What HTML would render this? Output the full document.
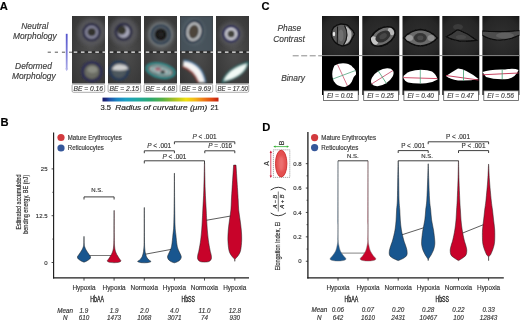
<!DOCTYPE html><html><head><meta charset="utf-8"><style>html,body{margin:0;padding:0;background:#fff;width:520px;height:322px;overflow:hidden}svg{display:block;filter:blur(0.3px)}text{font-family:"Liberation Sans",sans-serif}</style></head><body>
<svg width="520" height="322" viewBox="0 0 520 322">
<defs>
<filter id="b1" x="-50%" y="-50%" width="200%" height="200%"><feGaussianBlur stdDeviation="0.8"/></filter>
<filter id="b2" x="-50%" y="-50%" width="200%" height="200%"><feGaussianBlur stdDeviation="1.6"/></filter>
<filter id="b07" x="-50%" y="-50%" width="200%" height="200%"><feGaussianBlur stdDeviation="0.8"/></filter>
<filter id="bC" x="-50%" y="-50%" width="200%" height="200%"><feGaussianBlur stdDeviation="0.75"/></filter>
<filter id="b05" x="-50%" y="-50%" width="200%" height="200%"><feGaussianBlur stdDeviation="0.45"/></filter>
<linearGradient id="jet" x1="0" x2="1" y1="0" y2="0">
<stop offset="0" stop-color="#18186a"/><stop offset="0.03" stop-color="#1c2a80"/><stop offset="0.06" stop-color="#2050a8"/><stop offset="0.12" stop-color="#1a80c0"/><stop offset="0.2" stop-color="#1ca0c4"/><stop offset="0.3" stop-color="#20a8a0"/><stop offset="0.42" stop-color="#2ca86c"/><stop offset="0.52" stop-color="#58b044"/><stop offset="0.62" stop-color="#a8c024"/><stop offset="0.72" stop-color="#f0e010"/><stop offset="0.8" stop-color="#f2b41c"/><stop offset="0.88" stop-color="#ec7418"/><stop offset="0.95" stop-color="#dc4412"/><stop offset="1" stop-color="#c02010"/>
</linearGradient>
<linearGradient id="barrow" x1="0" x2="0" y1="0" y2="1"><stop offset="0" stop-color="#5454cc"/><stop offset="0.5" stop-color="#7878d8"/><stop offset="1" stop-color="#a8a8e6"/></linearGradient>
<radialGradient id="bgA" cx="0.55" cy="0.5" r="0.75"><stop offset="0" stop-color="#4e4e4e"/><stop offset="1" stop-color="#343434"/></radialGradient>
<radialGradient id="bgC" cx="0.5" cy="0.55" r="0.75"><stop offset="0" stop-color="#303030"/><stop offset="0.7" stop-color="#262626"/><stop offset="1" stop-color="#151515"/></radialGradient>
<clipPath id="cA0"><rect x="72" y="16" width="33" height="67.5"/></clipPath><clipPath id="cA1"><rect x="108" y="16" width="33" height="67.5"/></clipPath><clipPath id="cA2"><rect x="144" y="16" width="33" height="67.5"/></clipPath><clipPath id="cA3"><rect x="180" y="16" width="33" height="67.5"/></clipPath><clipPath id="cA4"><rect x="216" y="16" width="33" height="67.5"/></clipPath><clipPath id="cC0"><rect x="322.0" y="16" width="37" height="39"/></clipPath><clipPath id="cC1"><rect x="362.3" y="16" width="37" height="39"/></clipPath><clipPath id="cC2"><rect x="402.5" y="16" width="37" height="39"/></clipPath><clipPath id="cC3"><rect x="442.3" y="16" width="37" height="39"/></clipPath><clipPath id="cC4"><rect x="482.4" y="16" width="37" height="39"/></clipPath></defs>
<text x="-0.20" y="9.60" font-size="11.20" text-anchor="start" font-weight="bold" fill="#000" stroke="#000" stroke-width="0.15" >A</text>
<text x="34.80" y="29.00" font-size="8.40" text-anchor="middle" font-weight="normal" fill="#3a3a3a" font-style="italic" stroke="#3a3a3a" stroke-width="0.15" >Neutral</text>
<text x="34.80" y="39.00" font-size="8.40" text-anchor="middle" font-weight="normal" fill="#3a3a3a" font-style="italic" stroke="#3a3a3a" stroke-width="0.15" >Morphology</text>
<text x="33.50" y="69.10" font-size="8.40" text-anchor="middle" font-weight="normal" fill="#3a3a3a" font-style="italic" stroke="#3a3a3a" stroke-width="0.15" >Deformed</text>
<text x="33.80" y="79.40" font-size="8.40" text-anchor="middle" font-weight="normal" fill="#3a3a3a" font-style="italic" stroke="#3a3a3a" stroke-width="0.15" >Morphology</text>
<rect x="65.8" y="33.8" width="1.8" height="35.5" fill="url(#barrow)"/>
<path d="M65.2,68.5 L68.2,68.5 L66.7,71.2 Z" fill="#b4b4ea"/>
<line x1="47.7" y1="52.2" x2="72" y2="52.2" stroke="#444" stroke-width="0.9" stroke-dasharray="3.2,3.9"/>
<rect x="72" y="16" width="33" height="67.5" fill="url(#bgA)"/>
<rect x="108" y="16" width="33" height="67.5" fill="url(#bgA)"/>
<rect x="144" y="16" width="33" height="67.5" fill="url(#bgA)"/>
<rect x="180" y="16" width="33" height="67.5" fill="url(#bgA)"/>
<rect x="216" y="16" width="33" height="67.5" fill="url(#bgA)"/>
<g clip-path="url(#cA0)"><g filter="url(#b07)"><circle cx="91.6" cy="32.2" r="14" fill="#5a5a5e" opacity="0.8" filter="url(#b2)"/><circle cx="91.6" cy="32.2" r="7.9" fill="none" stroke="#262644" stroke-width="2.4"/><circle cx="91.6" cy="32.2" r="5.4" fill="none" stroke="#8e8ea6" stroke-width="2"/><circle cx="91.8" cy="32" r="4.1" fill="#32322e"/></g></g>
<g clip-path="url(#cA1)"><g filter="url(#b07)"><circle cx="123.5" cy="31.8" r="14" fill="#5a5a5e" opacity="0.8" filter="url(#b2)"/><circle cx="123.5" cy="31.8" r="7.8" fill="none" stroke="#262644" stroke-width="2.4"/><circle cx="123.5" cy="31.8" r="6" fill="#a8a8bc"/><circle cx="121.8" cy="30.3" r="4.5" fill="#36362e"/></g></g>
<g clip-path="url(#cA2)"><g filter="url(#b07)"><circle cx="160.8" cy="34.5" r="14" fill="#72787a" opacity="0.55" filter="url(#b2)"/><circle cx="160.8" cy="34.5" r="11" fill="none" stroke="#8a9294" stroke-width="1.6" opacity="0.7"/><circle cx="160.8" cy="34.5" r="9.4" fill="none" stroke="#22364a" stroke-width="2.2"/><circle cx="160.8" cy="34.5" r="7.4" fill="none" stroke="#56606a" stroke-width="1.8"/><circle cx="160.8" cy="34.5" r="6.3" fill="#161614"/><circle cx="160.8" cy="34.5" r="3" fill="#242220"/></g></g>
<g clip-path="url(#cA3)"><g filter="url(#b07)"><rect x="180" y="16" width="33" height="36" fill="#485660" opacity="0.8"/><ellipse cx="193.8" cy="31.7" rx="11" ry="13" fill="#66767e" opacity="0.5" filter="url(#b2)"/><ellipse cx="193.8" cy="31.7" rx="8.2" ry="10.4" transform="rotate(12 193.8 31.7)" fill="none" stroke="#18283e" stroke-width="2"/><ellipse cx="193.8" cy="31.7" rx="6.3" ry="8.4" transform="rotate(12 193.8 31.7)" fill="none" stroke="#dcdcdc" stroke-width="1.6"/><ellipse cx="193.6" cy="31.7" rx="4.8" ry="6.8" transform="rotate(12 193.8 31.7)" fill="#4e443a"/></g></g>
<g clip-path="url(#cA4)"><g filter="url(#b07)"><circle cx="231.1" cy="33.9" r="12" fill="#5a5a5e" opacity="0.7" filter="url(#b2)"/><circle cx="231.1" cy="33.9" r="7.5" fill="none" stroke="#24245c" stroke-width="2.2"/><circle cx="231.1" cy="33.9" r="5" fill="none" stroke="#dedee8" stroke-width="2.1"/><circle cx="231.1" cy="33.9" r="3.3" fill="#42423a"/></g></g>
<g clip-path="url(#cA0)"><g filter="url(#b07)"><circle cx="91.9" cy="71.7" r="9.3" fill="none" stroke="#2a2a58" stroke-width="2.4"/><circle cx="91.9" cy="71.7" r="7.3" fill="#6a6c64"/><ellipse cx="92.5" cy="69.5" rx="5.2" ry="3.6" fill="#8a8c82"/></g></g>
<g clip-path="url(#cA1)"><g filter="url(#b07)"><circle cx="119.1" cy="70.6" r="9" fill="none" stroke="#243a5c" stroke-width="2.4"/><circle cx="119.1" cy="70.6" r="7.4" fill="#4e585e"/><path d="M111.8,69.5 Q114,64 120,64.2 Q127,64.5 128.4,69 Q122,71.5 111.8,69.5 Z" fill="#cfcfcf"/></g></g>
<g clip-path="url(#cA2)"><g filter="url(#b07)"><ellipse cx="160.6" cy="70.6" rx="14.2" ry="6.8" transform="rotate(12 160.6 70.6)" fill="none" stroke="#2e9c9c" stroke-width="2"/><ellipse cx="160.6" cy="70.6" rx="11.8" ry="5" transform="rotate(12 160.6 70.6)" fill="#b2baba"/><ellipse cx="160.6" cy="70.6" rx="9" ry="3.5" transform="rotate(12 160.6 70.6)" fill="none" stroke="#3a8c8c" stroke-width="1"/><ellipse cx="158" cy="69" rx="3" ry="1.8" fill="#a06070"/><ellipse cx="162.8" cy="71.9" rx="2.4" ry="1.6" fill="#1a1a1a"/></g></g>
<g clip-path="url(#cA3)"><g filter="url(#b07)"><path d="M183.5,61 Q201.5,63 205,82.5 L199,82.5 Q194,70 183,66.5 Z" fill="#f4f4f4"/><path d="M183.5,60.5 Q202,62.5 205.5,82.5" fill="none" stroke="#4a8cc0" stroke-width="1.4"/><path d="M182.5,66.5 Q193.5,70 198.5,82.5" fill="none" stroke="#a83a30" stroke-width="1.6"/></g></g>
<g clip-path="url(#cA4)"><g filter="url(#b07)"><path d="M222.5,82 Q227,68 248,62.5 Q245.5,77 222.5,82 Z" fill="#f2faf6" stroke="#2a7a78" stroke-width="1.4"/></g></g>
<rect x="72" y="50.9" width="33" height="2.4" fill="#2c2c2c"/>
<rect x="108" y="50.9" width="33" height="2.4" fill="#2c2c2c"/>
<rect x="144" y="50.9" width="33" height="2.4" fill="#2c2c2c"/>
<rect x="180" y="50.9" width="33" height="2.4" fill="#2c2c2c"/>
<rect x="216" y="50.9" width="33" height="2.4" fill="#2c2c2c"/>
<line x1="73.7" y1="52.1" x2="249" y2="52.1" stroke="#f4f4f4" stroke-width="1.1" stroke-dasharray="3.6,3.6"/>
<rect x="72.1" y="84.3" width="32.6" height="8" rx="1.3" fill="#fff" stroke="#888" stroke-width="0.7"/>
<text x="73.50" y="90.60" font-size="7.00" text-anchor="start" font-weight="normal" fill="#3a3a3a" font-style="italic" stroke="#3a3a3a" stroke-width="0.15" textLength="29.5" lengthAdjust="spacingAndGlyphs">BE = 0.16</text>
<rect x="108.1" y="84.3" width="32.6" height="8" rx="1.3" fill="#fff" stroke="#888" stroke-width="0.7"/>
<text x="109.50" y="90.60" font-size="7.00" text-anchor="start" font-weight="normal" fill="#3a3a3a" font-style="italic" stroke="#3a3a3a" stroke-width="0.15" textLength="29.5" lengthAdjust="spacingAndGlyphs">BE = 2.15</text>
<rect x="144.1" y="84.3" width="32.6" height="8" rx="1.3" fill="#fff" stroke="#888" stroke-width="0.7"/>
<text x="145.50" y="90.60" font-size="7.00" text-anchor="start" font-weight="normal" fill="#3a3a3a" font-style="italic" stroke="#3a3a3a" stroke-width="0.15" textLength="29.5" lengthAdjust="spacingAndGlyphs">BE = 4.68</text>
<rect x="180.1" y="84.3" width="32.6" height="8" rx="1.3" fill="#fff" stroke="#888" stroke-width="0.7"/>
<text x="181.50" y="90.60" font-size="7.00" text-anchor="start" font-weight="normal" fill="#3a3a3a" font-style="italic" stroke="#3a3a3a" stroke-width="0.15" textLength="29.5" lengthAdjust="spacingAndGlyphs">BE = 9.69</text>
<rect x="216.1" y="84.3" width="32.6" height="8" rx="1.3" fill="#fff" stroke="#888" stroke-width="0.7"/>
<text x="217.50" y="90.60" font-size="7.00" text-anchor="start" font-weight="normal" fill="#3a3a3a" font-style="italic" stroke="#3a3a3a" stroke-width="0.15" textLength="30.5" lengthAdjust="spacingAndGlyphs">BE = 17.50</text>
<rect x="102.5" y="97.6" width="116" height="3.9" fill="url(#jet)"/>
<text x="100.40" y="109.80" font-size="7.80" text-anchor="start" font-weight="normal" fill="#222" stroke="#222" stroke-width="0.15" textLength="10.6" lengthAdjust="spacingAndGlyphs">3.5</text>
<text x="115.20" y="109.80" font-size="7.80" text-anchor="start" font-weight="normal" fill="#222" font-style="italic" stroke="#222" stroke-width="0.15" textLength="92" lengthAdjust="spacingAndGlyphs">Radius of curvature (μm)</text>
<text x="210.40" y="109.80" font-size="7.80" text-anchor="start" font-weight="normal" fill="#222" stroke="#222" stroke-width="0.15" textLength="8.3" lengthAdjust="spacingAndGlyphs">21</text>
<text x="261.50" y="10.00" font-size="11.20" text-anchor="start" font-weight="bold" fill="#000" stroke="#000" stroke-width="0.15" >C</text>
<text x="289.30" y="31.30" font-size="8.40" text-anchor="middle" font-weight="normal" fill="#3a3a3a" font-style="italic" stroke="#3a3a3a" stroke-width="0.15" >Phase</text>
<text x="289.00" y="41.60" font-size="8.40" text-anchor="middle" font-weight="normal" fill="#3a3a3a" font-style="italic" stroke="#3a3a3a" stroke-width="0.15" >Contrast</text>
<text x="293.00" y="80.60" font-size="8.40" text-anchor="middle" font-weight="normal" fill="#3a3a3a" font-style="italic" stroke="#3a3a3a" stroke-width="0.15" >Binary</text>
<line x1="292.7" y1="55.8" x2="322" y2="55.8" stroke="#8a8a8a" stroke-width="1" stroke-dasharray="6,2.5"/>
<rect x="322.0" y="16" width="37" height="39" fill="url(#bgC)"/>
<rect x="322.0" y="55" width="37" height="40" fill="#000"/>
<rect x="362.3" y="16" width="37" height="39" fill="url(#bgC)"/>
<rect x="362.3" y="55" width="37" height="40" fill="#000"/>
<rect x="402.5" y="16" width="37" height="39" fill="url(#bgC)"/>
<rect x="402.5" y="55" width="37" height="40" fill="#000"/>
<rect x="442.3" y="16" width="37" height="39" fill="url(#bgC)"/>
<rect x="442.3" y="55" width="37" height="40" fill="#000"/>
<rect x="482.4" y="16" width="37" height="39" fill="url(#bgC)"/>
<rect x="482.4" y="55" width="37" height="40" fill="#000"/>
<g clip-path="url(#cC0)"><g filter="url(#bC)"><path d="M331.3,33.4 Q332,29 333.8,27.2 Q337,24.5 340.6,24.1 Q343.5,24 346.2,24.7 Q348.5,25.5 350,27.8 Q353.5,30.5 354.5,34 Q353,37 351.2,40.2 Q350.5,42.5 348.7,44 Q345.5,46 341.9,45.8 Q338,45 335.7,42.7 Q333.5,41 332.6,38.4 Q331.2,36 331.3,33.4 Z" fill="#5c5c5c" stroke="#0c0c0c" stroke-width="1.3"/><path d="M345.5,26 Q352.5,30 351.5,36 Q350.5,42.5 344.5,44.5 Q349.5,37 345.5,26 Z" fill="#bcbcbc"/><path d="M344.5,25.5 Q350,35.5 343.5,45" fill="none" stroke="#161616" stroke-width="1.1"/><line x1="337.6" y1="26.5" x2="337.2" y2="44" stroke="#141414" stroke-width="1"/><ellipse cx="334" cy="34" rx="1.2" ry="2.2" fill="#e8e8e8"/><ellipse cx="341" cy="35.5" rx="2.5" ry="6" fill="#707070"/></g></g>
<g clip-path="url(#cC1)"><g filter="url(#bC)"><ellipse cx="382.9" cy="36.5" rx="13.2" ry="8.3" transform="rotate(-30 382.9 36.5)" fill="#6e6e6e" stroke="#0c0c0c" stroke-width="1.6"/><ellipse cx="374.5" cy="40.5" rx="3" ry="4.5" transform="rotate(-30 374.5 40.5)" fill="#c4c4c4"/><ellipse cx="391" cy="31.5" rx="2.6" ry="4" transform="rotate(-30 391 31.5)" fill="#b8b8b8"/><ellipse cx="382.9" cy="36.5" rx="8" ry="5.2" transform="rotate(-30 382.9 36.5)" fill="#323232"/><ellipse cx="383.3" cy="36.3" rx="4" ry="2.6" transform="rotate(-30 382.9 36.5)" fill="#464646"/></g></g>
<g clip-path="url(#cC2)"><g filter="url(#bC)"><path d="M403.5,38 Q411,30 420.5,29.5 Q430,30 437.4,38 Q430,45.5 420.5,46 Q411,45.5 403.5,38 Z" fill="#6a6a6a" stroke="#0c0c0c" stroke-width="1.4"/><ellipse cx="409.5" cy="38" rx="3.5" ry="3" fill="#9a9a9a"/><ellipse cx="431" cy="38" rx="3.5" ry="3" fill="#8e8e8e"/><ellipse cx="420.3" cy="37.8" rx="6.5" ry="4.8" fill="#363636"/><ellipse cx="420.3" cy="37.8" rx="3" ry="2.3" fill="#4a4a4a"/></g></g>
<g clip-path="url(#cC3)"><g filter="url(#bC)"><ellipse cx="458" cy="27" rx="5" ry="3" fill="#3a3a3a"/><path d="M446.5,36.8 Q452,34 456.5,30.2 Q458,29.5 460,30.5 Q469,34 476.5,40.3 Q467,41.5 459,40.8 Q451,39.5 446.5,36.8 Z" fill="#3e3e3e" stroke="#0a0a0a" stroke-width="1.2"/><ellipse cx="461" cy="37" rx="5" ry="2" fill="#4a4a4a"/></g></g>
<g clip-path="url(#cC4)"><g filter="url(#bC)"><path d="M482,31 Q500,32.5 520,30.5 L520,35 Q507,41 497,40 Q488,39 482,35 Z" fill="#4e4e4e" stroke="#0e0e0e" stroke-width="1.2"/><ellipse cx="505" cy="35.5" rx="9" ry="3" fill="#606060"/></g></g>
<line x1="322" y1="55.6" x2="520" y2="55.6" stroke="#8c8c8c" stroke-width="1"/>
<path d="M334.5,65.5 Q340,62.5 346,63.5 Q351,64.5 352.5,67 Q356.5,70 356,74.5 Q353,77 352.5,80 Q351,85 345,87 Q339,86.5 336,84 Q333,81.5 332.5,77 Q331.5,71 334.5,65.5 Z" fill="#fff"/><line x1="337.5" y1="64.5" x2="347.5" y2="86" stroke="#c84866" stroke-width="0.75"/><line x1="332.8" y1="79" x2="355.5" y2="70.5" stroke="#48a078" stroke-width="0.75"/>
<ellipse cx="382.3" cy="77.2" rx="12.5" ry="7.2" transform="rotate(-32 382.3 77.2)" fill="#fff"/><line x1="371.5" y1="84" x2="393" y2="70.5" stroke="#c04060" stroke-width="0.8"/><line x1="378" y1="70.5" x2="386.5" y2="83.5" stroke="#40a070" stroke-width="0.8"/>
<path d="M403.3,77 Q405,73.5 410,71.5 Q415,70 421,69.8 Q428,70 432,71.5 Q436,74 437.6,79.5 Q433,82.5 426,83.3 Q415,84 408,82.6 Q404,80.5 403.3,77 Z" fill="#fff"/><line x1="403.3" y1="77.6" x2="437.4" y2="78.6" stroke="#c83050" stroke-width="0.85"/><line x1="420.3" y1="70" x2="420.3" y2="83.5" stroke="#48a078" stroke-width="0.75"/>
<path d="M446,76 Q452,72 458,68.5 Q466,69 478.5,79 Q470,81 458,80.5 Q450,79 446,76 Z" fill="#fff"/><line x1="446" y1="75.5" x2="478.5" y2="80" stroke="#c03050" stroke-width="0.9"/><line x1="463.5" y1="70" x2="463.5" y2="81" stroke="#40a070" stroke-width="0.8"/>
<path d="M482.5,72 Q490,69 505,69.5 Q514,68 518.5,70 Q516,77 508,79 Q495,80 486,77 Z" fill="#fff"/><line x1="482.5" y1="74.8" x2="518.5" y2="73" stroke="#c03050" stroke-width="0.9"/><line x1="502.2" y1="69.5" x2="502.2" y2="79" stroke="#40a070" stroke-width="0.8"/>
<rect x="323.4" y="90.8" width="34.8" height="9.6" fill="#fff" stroke="#555" stroke-width="0.8"/>
<text x="326.90" y="98.10" font-size="7.30" text-anchor="start" font-weight="normal" fill="#3a3a3a" font-style="italic" stroke="#3a3a3a" stroke-width="0.15" textLength="26.6" lengthAdjust="spacingAndGlyphs">EI = 0.01</text>
<rect x="363.7" y="90.8" width="34.8" height="9.6" fill="#fff" stroke="#555" stroke-width="0.8"/>
<text x="367.20" y="98.10" font-size="7.30" text-anchor="start" font-weight="normal" fill="#3a3a3a" font-style="italic" stroke="#3a3a3a" stroke-width="0.15" textLength="26.6" lengthAdjust="spacingAndGlyphs">EI = 0.25</text>
<rect x="403.9" y="90.8" width="34.8" height="9.6" fill="#fff" stroke="#555" stroke-width="0.8"/>
<text x="407.40" y="98.10" font-size="7.30" text-anchor="start" font-weight="normal" fill="#3a3a3a" font-style="italic" stroke="#3a3a3a" stroke-width="0.15" textLength="26.6" lengthAdjust="spacingAndGlyphs">EI = 0.40</text>
<rect x="443.7" y="90.8" width="34.8" height="9.6" fill="#fff" stroke="#555" stroke-width="0.8"/>
<text x="447.20" y="98.10" font-size="7.30" text-anchor="start" font-weight="normal" fill="#3a3a3a" font-style="italic" stroke="#3a3a3a" stroke-width="0.15" textLength="26.6" lengthAdjust="spacingAndGlyphs">EI = 0.47</text>
<rect x="483.8" y="90.8" width="34.8" height="9.6" fill="#fff" stroke="#555" stroke-width="0.8"/>
<text x="487.30" y="98.10" font-size="7.30" text-anchor="start" font-weight="normal" fill="#3a3a3a" font-style="italic" stroke="#3a3a3a" stroke-width="0.15" textLength="26.6" lengthAdjust="spacingAndGlyphs">EI = 0.56</text>
<text x="0.50" y="125.90" font-size="11.20" text-anchor="start" font-weight="bold" fill="#000" stroke="#000" stroke-width="0.15" >B</text>
<line x1="53.6" y1="132.5" x2="53.6" y2="278.5" stroke="#1c1c1c" stroke-width="1.15"/>
<line x1="53.05" y1="277.9" x2="249" y2="277.9" stroke="#1c1c1c" stroke-width="1.3"/>
<line x1="51.6" y1="168.90" x2="53.6" y2="168.90" stroke="#222" stroke-width="0.8"/>
<text x="47.50" y="171.00" font-size="6.00" text-anchor="end" font-weight="normal" fill="#333" stroke="#333" stroke-width="0.15" >25</text>
<line x1="51.6" y1="215.70" x2="53.6" y2="215.70" stroke="#222" stroke-width="0.8"/>
<text x="47.50" y="217.80" font-size="6.00" text-anchor="end" font-weight="normal" fill="#333" stroke="#333" stroke-width="0.15" >12.5</text>
<line x1="51.6" y1="262.50" x2="53.6" y2="262.50" stroke="#222" stroke-width="0.8"/>
<text x="47.50" y="264.60" font-size="6.00" text-anchor="end" font-weight="normal" fill="#333" stroke="#333" stroke-width="0.15" >0</text>
<line x1="52.3" y1="192.30" x2="53.6" y2="192.30" stroke="#222" stroke-width="0.7"/>
<line x1="52.3" y1="239.10" x2="53.6" y2="239.10" stroke="#222" stroke-width="0.7"/>
<g transform="translate(20.8,202) rotate(-90)"><text x="0.00" y="0.00" font-size="6.70" text-anchor="middle" font-weight="normal" fill="#2a2a2a" stroke="#2a2a2a" stroke-width="0.15" textLength="55" lengthAdjust="spacingAndGlyphs">Estimated accumulated</text></g>
<g transform="translate(28.3,204.3) rotate(-90)"><text x="0.00" y="0.00" font-size="6.70" text-anchor="middle" font-weight="normal" fill="#2a2a2a" stroke="#2a2a2a" stroke-width="0.15" textLength="59" lengthAdjust="spacingAndGlyphs">bending energy, BE (nJ)</text></g>
<circle cx="61" cy="137.5" r="3.6" fill="#d23a3e"/>
<circle cx="61" cy="148" r="3.6" fill="#35579a"/>
<text x="67.80" y="139.90" font-size="6.30" text-anchor="start" font-weight="normal" fill="#333" stroke="#333" stroke-width="0.15" textLength="54" lengthAdjust="spacingAndGlyphs">Mature Erythrocytes</text>
<text x="67.80" y="150.40" font-size="6.30" text-anchor="start" font-weight="normal" fill="#333" stroke="#333" stroke-width="0.15" textLength="36" lengthAdjust="spacingAndGlyphs">Reticulocytes</text>
<line x1="84" y1="255.5" x2="114.1" y2="255.5" stroke="#555" stroke-width="0.8"/>
<line x1="144.3" y1="254.4" x2="174.4" y2="248.8" stroke="#333" stroke-width="0.8"/>
<line x1="204.5" y1="220.6" x2="234.8" y2="215.3" stroke="#333" stroke-width="0.8"/>
<path d="M84.07,236.40 C84.09,237.67 84.09,242.23 84.21,244.00 C84.33,245.77 84.45,246.00 84.77,247.00 C85.08,248.00 85.61,249.08 86.10,250.00 C86.59,250.92 87.15,251.67 87.70,252.50 C88.25,253.33 88.92,254.25 89.40,255.00 C89.88,255.75 90.55,256.33 90.60,257.00 C90.65,257.67 90.33,258.33 89.70,259.00 C89.07,259.67 87.75,260.47 86.80,261.00 C85.85,261.53 84.47,262.00 84.00,262.20 L84.00,262.20 C83.53,262.00 82.15,261.53 81.20,261.00 C80.25,260.47 78.93,259.67 78.30,259.00 C77.67,258.33 77.35,257.67 77.40,257.00 C77.45,256.33 78.12,255.75 78.60,255.00 C79.08,254.25 79.75,253.33 80.30,252.50 C80.85,251.67 81.41,250.92 81.90,250.00 C82.39,249.08 82.92,248.00 83.23,247.00 C83.55,246.00 83.67,245.77 83.79,244.00 C83.91,242.23 83.91,237.67 83.93,236.40 Z" fill="#18568f" stroke="#1e1e1e" stroke-width="0.5" stroke-linejoin="round"/>
<path d="M114.17,210.40 C114.18,214.50 114.16,228.90 114.24,235.00 C114.32,241.10 114.38,244.08 114.66,247.00 C114.94,249.92 115.39,251.00 115.90,252.50 C116.41,254.00 117.08,254.92 117.70,256.00 C118.32,257.08 119.07,258.17 119.60,259.00 C120.13,259.83 121.07,260.45 120.90,261.00 C120.73,261.55 119.73,262.02 118.60,262.30 C117.47,262.58 114.85,262.63 114.10,262.70 L114.10,262.70 C113.35,262.63 110.73,262.58 109.60,262.30 C108.47,262.02 107.47,261.55 107.30,261.00 C107.13,260.45 108.07,259.83 108.60,259.00 C109.13,258.17 109.88,257.08 110.50,256.00 C111.12,254.92 111.79,254.00 112.30,252.50 C112.81,251.00 113.26,249.92 113.54,247.00 C113.82,244.08 113.88,241.10 113.96,235.00 C114.04,228.90 114.02,214.50 114.03,210.40 Z" fill="#c8032a" stroke="#1e1e1e" stroke-width="0.5" stroke-linejoin="round"/>
<path d="M144.37,207.50 C144.39,212.92 144.38,232.92 144.48,240.00 C144.57,247.08 144.69,247.50 144.93,250.00 C145.17,252.50 145.52,253.67 145.90,255.00 C146.28,256.33 146.68,257.17 147.20,258.00 C147.72,258.83 148.37,259.42 149.00,260.00 C149.63,260.58 151.12,261.08 151.00,261.50 C150.88,261.92 149.42,262.28 148.30,262.50 C147.18,262.72 144.97,262.75 144.30,262.80 L144.30,262.80 C143.63,262.75 141.42,262.72 140.30,262.50 C139.18,262.28 137.72,261.92 137.60,261.50 C137.48,261.08 138.97,260.58 139.60,260.00 C140.23,259.42 140.88,258.83 141.40,258.00 C141.92,257.17 142.32,256.33 142.70,255.00 C143.08,253.67 143.43,252.50 143.67,250.00 C143.91,247.50 144.03,247.08 144.12,240.00 C144.22,232.92 144.21,212.92 144.23,207.50 Z" fill="#18568f" stroke="#1e1e1e" stroke-width="0.5" stroke-linejoin="round"/>
<path d="M174.47,173.20 C174.49,177.67 174.52,191.37 174.61,200.00 C174.70,208.63 174.81,219.17 175.03,225.00 C175.25,230.83 175.57,231.67 175.90,235.00 C176.23,238.33 176.58,242.50 177.00,245.00 C177.42,247.50 177.85,248.50 178.40,250.00 C178.95,251.50 179.82,252.83 180.30,254.00 C180.78,255.17 181.35,256.00 181.30,257.00 C181.25,258.00 180.73,259.17 180.00,260.00 C179.27,260.83 177.83,261.53 176.90,262.00 C175.97,262.47 174.82,262.67 174.40,262.80 L174.40,262.80 C173.98,262.67 172.83,262.47 171.90,262.00 C170.97,261.53 169.53,260.83 168.80,260.00 C168.07,259.17 167.55,258.00 167.50,257.00 C167.45,256.00 168.02,255.17 168.50,254.00 C168.98,252.83 169.85,251.50 170.40,250.00 C170.95,248.50 171.38,247.50 171.80,245.00 C172.22,242.50 172.57,238.33 172.90,235.00 C173.23,231.67 173.56,230.83 173.77,225.00 C173.99,219.17 174.10,208.63 174.19,200.00 C174.28,191.37 174.31,177.67 174.33,173.20 Z" fill="#18568f" stroke="#1e1e1e" stroke-width="0.5" stroke-linejoin="round"/>
<path d="M204.60,163.00 C204.70,167.50 204.93,182.17 205.20,190.00 C205.47,197.83 205.95,205.00 206.20,210.00 C206.45,215.00 206.52,216.67 206.70,220.00 C206.88,223.33 207.03,226.67 207.30,230.00 C207.57,233.33 207.85,236.67 208.30,240.00 C208.75,243.33 209.52,247.50 210.00,250.00 C210.48,252.50 210.98,253.50 211.20,255.00 C211.42,256.50 211.67,257.92 211.30,259.00 C210.93,260.08 210.13,260.98 209.00,261.50 C207.87,262.02 205.25,262.00 204.50,262.10 L204.50,262.10 C203.75,262.00 201.13,262.02 200.00,261.50 C198.87,260.98 198.07,260.08 197.70,259.00 C197.33,257.92 197.58,256.50 197.80,255.00 C198.02,253.50 198.52,252.50 199.00,250.00 C199.48,247.50 200.25,243.33 200.70,240.00 C201.15,236.67 201.43,233.33 201.70,230.00 C201.97,226.67 202.12,223.33 202.30,220.00 C202.48,216.67 202.55,215.00 202.80,210.00 C203.05,205.00 203.53,197.83 203.80,190.00 C204.07,182.17 204.30,167.50 204.40,163.00 Z" fill="#c8032a" stroke="#1e1e1e" stroke-width="0.5" stroke-linejoin="round"/>
<path d="M236.00,165.10 C236.27,169.25 237.23,184.18 237.60,190.00 C237.97,195.82 238.02,196.67 238.20,200.00 C238.38,203.33 238.38,206.67 238.70,210.00 C239.02,213.33 239.67,216.67 240.10,220.00 C240.53,223.33 241.03,226.67 241.30,230.00 C241.57,233.33 241.80,236.67 241.70,240.00 C241.60,243.33 241.22,247.50 240.70,250.00 C240.18,252.50 239.44,253.58 238.60,255.00 C237.76,256.42 236.25,257.75 235.64,258.50 C235.03,259.25 235.07,259.03 234.94,259.50 C234.81,259.97 234.87,261.00 234.85,261.30 L234.75,261.30 C234.73,261.00 234.79,259.97 234.66,259.50 C234.53,259.03 234.57,259.25 233.96,258.50 C233.35,257.75 231.84,256.42 231.00,255.00 C230.16,253.58 229.42,252.50 228.90,250.00 C228.38,247.50 228.00,243.33 227.90,240.00 C227.80,236.67 228.03,233.33 228.30,230.00 C228.57,226.67 229.07,223.33 229.50,220.00 C229.93,216.67 230.58,213.33 230.90,210.00 C231.22,206.67 231.22,203.33 231.40,200.00 C231.58,196.67 231.63,195.82 232.00,190.00 C232.37,184.18 233.33,169.25 233.60,165.10 Z" fill="#c8032a" stroke="#1e1e1e" stroke-width="0.5" stroke-linejoin="round"/>
<line x1="84.00" y1="278" x2="84.00" y2="280.6" stroke="#222" stroke-width="0.8"/>
<line x1="114.10" y1="278" x2="114.10" y2="280.6" stroke="#222" stroke-width="0.8"/>
<line x1="144.30" y1="278" x2="144.30" y2="280.6" stroke="#222" stroke-width="0.8"/>
<line x1="174.40" y1="278" x2="174.40" y2="280.6" stroke="#222" stroke-width="0.8"/>
<line x1="204.50" y1="278" x2="204.50" y2="280.6" stroke="#222" stroke-width="0.8"/>
<line x1="234.80" y1="278" x2="234.80" y2="280.6" stroke="#222" stroke-width="0.8"/>
<text x="84.00" y="289.60" font-size="6.40" text-anchor="middle" font-weight="normal" fill="#333" stroke="#333" stroke-width="0.15" >Hypoxia</text>
<text x="114.10" y="289.60" font-size="6.40" text-anchor="middle" font-weight="normal" fill="#333" stroke="#333" stroke-width="0.15" >Hypoxia</text>
<text x="144.30" y="289.60" font-size="6.40" text-anchor="middle" font-weight="normal" fill="#333" stroke="#333" stroke-width="0.15" >Normoxia</text>
<text x="174.40" y="289.60" font-size="6.40" text-anchor="middle" font-weight="normal" fill="#333" stroke="#333" stroke-width="0.15" >Hypoxia</text>
<text x="204.50" y="289.60" font-size="6.40" text-anchor="middle" font-weight="normal" fill="#333" stroke="#333" stroke-width="0.15" >Normoxia</text>
<text x="234.80" y="289.60" font-size="6.40" text-anchor="middle" font-weight="normal" fill="#333" stroke="#333" stroke-width="0.15" >Hypoxia</text>
<text x="97.10" y="301.50" font-size="9.00" text-anchor="middle" font-weight="normal" fill="#2a2a2a" stroke="#2a2a2a" stroke-width="0.40" textLength="13.6" lengthAdjust="spacingAndGlyphs">HbAA</text>
<text x="188.20" y="301.50" font-size="9.00" text-anchor="middle" font-weight="normal" fill="#2a2a2a" stroke="#2a2a2a" stroke-width="0.40" textLength="13.6" lengthAdjust="spacingAndGlyphs">HbSS</text>
<text x="65.20" y="312.60" font-size="6.30" text-anchor="middle" font-weight="normal" fill="#333" font-style="italic" stroke="#333" stroke-width="0.15" >Mean</text>
<text x="65.20" y="320.30" font-size="6.30" text-anchor="middle" font-weight="normal" fill="#333" font-style="italic" stroke="#333" stroke-width="0.15" >N</text>
<text x="84.00" y="312.60" font-size="6.30" text-anchor="middle" font-weight="normal" fill="#333" font-style="italic" stroke="#333" stroke-width="0.15" >1.9</text>
<text x="84.00" y="320.30" font-size="6.30" text-anchor="middle" font-weight="normal" fill="#333" font-style="italic" stroke="#333" stroke-width="0.15" >610</text>
<text x="114.10" y="312.60" font-size="6.30" text-anchor="middle" font-weight="normal" fill="#333" font-style="italic" stroke="#333" stroke-width="0.15" >1.9</text>
<text x="114.10" y="320.30" font-size="6.30" text-anchor="middle" font-weight="normal" fill="#333" font-style="italic" stroke="#333" stroke-width="0.15" >1473</text>
<text x="144.30" y="312.60" font-size="6.30" text-anchor="middle" font-weight="normal" fill="#333" font-style="italic" stroke="#333" stroke-width="0.15" >2.0</text>
<text x="144.30" y="320.30" font-size="6.30" text-anchor="middle" font-weight="normal" fill="#333" font-style="italic" stroke="#333" stroke-width="0.15" >1068</text>
<text x="174.40" y="312.60" font-size="6.30" text-anchor="middle" font-weight="normal" fill="#333" font-style="italic" stroke="#333" stroke-width="0.15" >4.0</text>
<text x="174.40" y="320.30" font-size="6.30" text-anchor="middle" font-weight="normal" fill="#333" font-style="italic" stroke="#333" stroke-width="0.15" >3071</text>
<text x="204.50" y="312.60" font-size="6.30" text-anchor="middle" font-weight="normal" fill="#333" font-style="italic" stroke="#333" stroke-width="0.15" >11.0</text>
<text x="204.50" y="320.30" font-size="6.30" text-anchor="middle" font-weight="normal" fill="#333" font-style="italic" stroke="#333" stroke-width="0.15" >74</text>
<text x="234.80" y="312.60" font-size="6.30" text-anchor="middle" font-weight="normal" fill="#333" font-style="italic" stroke="#333" stroke-width="0.15" >12.8</text>
<text x="234.80" y="320.30" font-size="6.30" text-anchor="middle" font-weight="normal" fill="#333" font-style="italic" stroke="#333" stroke-width="0.15" >930</text>
<path d="M84.00,199.50 L84.00,196.90 L114.10,196.90 L114.10,199.50" fill="none" stroke="#2a2a2a" stroke-width="0.9"/>
<text x="97.00" y="192.30" font-size="6.00" text-anchor="middle" font-weight="normal" fill="#333" stroke="#333" stroke-width="0.15" >N.S.</text>
<path d="M174.40,144.20 L174.40,141.80 L234.80,141.80 L234.80,144.20" fill="none" stroke="#2a2a2a" stroke-width="0.9"/>
<text x="204.50" y="139.30" font-size="6.40" text-anchor="middle" font-weight="normal" fill="#333" stroke="#333" stroke-width="0.15" ><tspan font-style="italic">P</tspan> &lt; .001</text>
<path d="M144.30,153.20 L144.30,150.80 L174.40,150.80 L174.40,153.20" fill="none" stroke="#2a2a2a" stroke-width="0.9"/>
<text x="159.20" y="148.30" font-size="6.40" text-anchor="middle" font-weight="normal" fill="#333" stroke="#333" stroke-width="0.15" ><tspan font-style="italic">P</tspan> &lt; .001</text>
<path d="M204.80,153.20 L204.80,150.80 L234.80,150.80 L234.80,153.20" fill="none" stroke="#2a2a2a" stroke-width="0.9"/>
<text x="220.20" y="148.30" font-size="6.40" text-anchor="middle" font-weight="normal" fill="#333" stroke="#333" stroke-width="0.15" ><tspan font-style="italic">P</tspan> = .016</text>
<path d="M144.30,163.40 L144.30,160.80 L204.50,160.80 L204.50,163.40" fill="none" stroke="#2a2a2a" stroke-width="0.9"/>
<text x="174.40" y="159.20" font-size="6.40" text-anchor="middle" font-weight="normal" fill="#333" stroke="#333" stroke-width="0.15" ><tspan font-style="italic">P</tspan> &lt; .001</text>
<text x="262.30" y="130.50" font-size="11.20" text-anchor="start" font-weight="bold" fill="#000" stroke="#000" stroke-width="0.15" >D</text>
<line x1="307.9" y1="132" x2="307.9" y2="278.5" stroke="#1c1c1c" stroke-width="1.3"/>
<line x1="307.25" y1="277.9" x2="503.8" y2="277.9" stroke="#1c1c1c" stroke-width="1.3"/>
<line x1="305.8" y1="261.25" x2="307.9" y2="261.25" stroke="#222" stroke-width="0.8"/>
<text x="301.50" y="263.35" font-size="6.00" text-anchor="end" font-weight="normal" fill="#333" stroke="#333" stroke-width="0.15" >0</text>
<line x1="306.5" y1="249.05" x2="307.9" y2="249.05" stroke="#222" stroke-width="0.7"/>
<line x1="305.8" y1="236.85" x2="307.9" y2="236.85" stroke="#222" stroke-width="0.8"/>
<text x="301.50" y="238.95" font-size="6.00" text-anchor="end" font-weight="normal" fill="#333" stroke="#333" stroke-width="0.15" >0.2</text>
<line x1="306.5" y1="224.65" x2="307.9" y2="224.65" stroke="#222" stroke-width="0.7"/>
<line x1="305.8" y1="212.45" x2="307.9" y2="212.45" stroke="#222" stroke-width="0.8"/>
<text x="301.50" y="214.55" font-size="6.00" text-anchor="end" font-weight="normal" fill="#333" stroke="#333" stroke-width="0.15" >0.4</text>
<line x1="306.5" y1="200.25" x2="307.9" y2="200.25" stroke="#222" stroke-width="0.7"/>
<line x1="305.8" y1="188.05" x2="307.9" y2="188.05" stroke="#222" stroke-width="0.8"/>
<text x="301.50" y="190.15" font-size="6.00" text-anchor="end" font-weight="normal" fill="#333" stroke="#333" stroke-width="0.15" >0.6</text>
<line x1="306.5" y1="175.85" x2="307.9" y2="175.85" stroke="#222" stroke-width="0.7"/>
<line x1="305.8" y1="163.65" x2="307.9" y2="163.65" stroke="#222" stroke-width="0.8"/>
<text x="301.50" y="165.75" font-size="6.00" text-anchor="end" font-weight="normal" fill="#333" stroke="#333" stroke-width="0.15" >0.8</text>
<g transform="translate(280.2,245.9) rotate(-90)"><text x="0.00" y="0.00" font-size="7.00" text-anchor="middle" font-weight="normal" fill="#2a2a2a" stroke="#2a2a2a" stroke-width="0.15" textLength="49" lengthAdjust="spacingAndGlyphs">Elongation Index, EI</text></g>
<g transform="translate(278.3,201.5) rotate(-90)"><path d="M-11.5,-7.6 Q-17,0 -11.5,7.6" fill="none" stroke="#222" stroke-width="0.9"/><path d="M11.5,-7.6 Q17,0 11.5,7.6" fill="none" stroke="#222" stroke-width="0.9"/><line x1="-10" y1="0" x2="10" y2="0" stroke="#222" stroke-width="0.6"/><text x="0.00" y="-1.80" font-size="5.90" text-anchor="middle" font-weight="normal" fill="#222" font-style="italic" stroke="#222" stroke-width="0.15" textLength="13.6" lengthAdjust="spacingAndGlyphs">A − B</text><text x="0.00" y="6.00" font-size="5.90" text-anchor="middle" font-weight="normal" fill="#222" font-style="italic" stroke="#222" stroke-width="0.15" textLength="13.8" lengthAdjust="spacingAndGlyphs">A + B</text></g>
<circle cx="314.6" cy="137.6" r="3.6" fill="#d23a3e"/>
<circle cx="314.6" cy="147.6" r="3.6" fill="#35579a"/>
<text x="321.30" y="139.90" font-size="6.30" text-anchor="start" font-weight="normal" fill="#333" stroke="#333" stroke-width="0.15" textLength="54.8" lengthAdjust="spacingAndGlyphs">Mature Erythrocytes</text>
<text x="321.30" y="149.90" font-size="6.30" text-anchor="start" font-weight="normal" fill="#333" stroke="#333" stroke-width="0.15" textLength="37" lengthAdjust="spacingAndGlyphs">Reticulocytes</text>
<g><rect x="273.4" y="149.8" width="16.4" height="27.6" fill="none" stroke="#666" stroke-width="0.7" stroke-dasharray="1,1"/><ellipse cx="281.2" cy="163.6" rx="5.7" ry="13.4" fill="#e45050" stroke="#cc2c2c" stroke-width="0.9"/><ellipse cx="281.2" cy="163.6" rx="2.8" ry="7.5" fill="#ec7070" filter="url(#b1)"/><line x1="270.8" y1="151.5" x2="270.8" y2="177" stroke="#d02040" stroke-width="0.8"/><path d="M269.6,153 L270.8,150.6 L272,153 Z" fill="#d02040"/><path d="M269.6,175.5 L270.8,177.9 L272,175.5 Z" fill="#d02040"/><line x1="274.5" y1="146.6" x2="287.8" y2="146.6" stroke="#30b030" stroke-width="0.8"/><path d="M275.5,145.5 L273.3,146.6 L275.5,147.7 Z" fill="#30b030"/><path d="M286.8,145.5 L289,146.6 L286.8,147.7 Z" fill="#30b030"/></g>
<g transform="translate(283.6,142.9) rotate(-90)"><text x="0.00" y="0.00" font-size="6.80" text-anchor="middle" font-weight="normal" fill="#333" stroke="#333" stroke-width="0.15" >B</text></g>
<g transform="translate(269.0,163.6) rotate(-90)"><text x="0.00" y="0.00" font-size="6.80" text-anchor="middle" font-weight="normal" fill="#333" stroke="#333" stroke-width="0.15" >A</text></g>
<line x1="338" y1="253.1" x2="368" y2="253.1" stroke="#666" stroke-width="0.8"/>
<line x1="398.2" y1="236" x2="428.2" y2="226.3" stroke="#333" stroke-width="0.8"/>
<line x1="458.5" y1="234.7" x2="488.6" y2="222.6" stroke="#333" stroke-width="0.8"/>
<path d="M338.09,160.80 C338.09,171.50 338.10,211.80 338.12,225.00 C338.14,238.20 338.10,236.67 338.21,240.00 C338.32,243.33 338.47,243.33 338.77,245.00 C339.07,246.67 339.55,248.67 340.00,250.00 C340.45,251.33 340.88,252.00 341.50,253.00 C342.12,254.00 343.07,255.20 343.70,256.00 C344.33,256.80 344.93,257.33 345.30,257.80 C345.67,258.27 345.88,258.47 345.90,258.80 C345.92,259.13 345.85,259.52 345.40,259.80 C344.95,260.08 344.02,260.32 343.20,260.50 C342.38,260.68 341.37,260.82 340.50,260.90 C339.63,260.98 338.42,260.98 338.00,261.00 L338.00,261.00 C337.58,260.98 336.37,260.98 335.50,260.90 C334.63,260.82 333.62,260.68 332.80,260.50 C331.98,260.32 331.05,260.08 330.60,259.80 C330.15,259.52 330.08,259.13 330.10,258.80 C330.12,258.47 330.33,258.27 330.70,257.80 C331.07,257.33 331.67,256.80 332.30,256.00 C332.93,255.20 333.88,254.00 334.50,253.00 C335.12,252.00 335.55,251.33 336.00,250.00 C336.45,248.67 336.93,246.67 337.23,245.00 C337.53,243.33 337.68,243.33 337.79,240.00 C337.90,236.67 337.86,238.20 337.88,225.00 C337.90,211.80 337.91,171.50 337.91,160.80 Z" fill="#18568f" stroke="#6a6a6a" stroke-width="0.45" stroke-linejoin="round"/>
<path d="M368.09,160.80 C368.09,171.50 368.10,211.80 368.12,225.00 C368.14,238.20 368.10,236.67 368.21,240.00 C368.32,243.33 368.47,243.33 368.77,245.00 C369.07,246.67 369.55,248.67 370.00,250.00 C370.45,251.33 370.92,252.00 371.50,253.00 C372.08,254.00 372.88,255.20 373.50,256.00 C374.12,256.80 374.82,257.33 375.20,257.80 C375.58,258.27 375.78,258.47 375.80,258.80 C375.82,259.13 375.73,259.52 375.30,259.80 C374.87,260.08 374.00,260.32 373.20,260.50 C372.40,260.68 371.37,260.82 370.50,260.90 C369.63,260.98 368.42,260.98 368.00,261.00 L368.00,261.00 C367.58,260.98 366.37,260.98 365.50,260.90 C364.63,260.82 363.60,260.68 362.80,260.50 C362.00,260.32 361.13,260.08 360.70,259.80 C360.27,259.52 360.18,259.13 360.20,258.80 C360.22,258.47 360.42,258.27 360.80,257.80 C361.18,257.33 361.88,256.80 362.50,256.00 C363.12,255.20 363.92,254.00 364.50,253.00 C365.08,252.00 365.55,251.33 366.00,250.00 C366.45,248.67 366.93,246.67 367.23,245.00 C367.53,243.33 367.68,243.33 367.79,240.00 C367.90,236.67 367.86,238.20 367.88,225.00 C367.90,211.80 367.91,171.50 367.91,160.80 Z" fill="#c8032a" stroke="#6a6a6a" stroke-width="0.45" stroke-linejoin="round"/>
<path d="M398.27,160.80 C398.34,164.00 398.56,173.47 398.69,180.00 C398.82,186.53 398.85,195.00 399.04,200.00 C399.22,205.00 399.59,206.67 399.80,210.00 C400.01,213.33 400.03,216.67 400.30,220.00 C400.57,223.33 400.83,226.67 401.40,230.00 C401.97,233.33 403.03,237.50 403.70,240.00 C404.37,242.50 404.87,243.33 405.40,245.00 C405.93,246.67 406.65,248.33 406.90,250.00 C407.15,251.67 407.40,253.67 406.90,255.00 C406.40,256.33 405.35,257.07 403.90,258.00 C402.45,258.93 399.15,260.17 398.20,260.60 L398.20,260.60 C397.25,260.17 393.95,258.93 392.50,258.00 C391.05,257.07 390.00,256.33 389.50,255.00 C389.00,253.67 389.25,251.67 389.50,250.00 C389.75,248.33 390.47,246.67 391.00,245.00 C391.53,243.33 392.03,242.50 392.70,240.00 C393.37,237.50 394.43,233.33 395.00,230.00 C395.57,226.67 395.83,223.33 396.10,220.00 C396.37,216.67 396.39,213.33 396.60,210.00 C396.81,206.67 397.18,205.00 397.36,200.00 C397.55,195.00 397.58,186.53 397.71,180.00 C397.84,173.47 398.06,164.00 398.13,160.80 Z" fill="#18568f" stroke="#1e1e1e" stroke-width="0.5" stroke-linejoin="round"/>
<path d="M428.27,163.80 C428.35,166.50 428.54,173.97 428.76,180.00 C428.98,186.03 429.28,195.00 429.60,200.00 C429.92,205.00 430.37,206.67 430.70,210.00 C431.03,213.33 431.13,216.67 431.60,220.00 C432.07,223.33 432.98,226.67 433.50,230.00 C434.02,233.33 434.50,237.50 434.70,240.00 C434.90,242.50 434.90,243.33 434.70,245.00 C434.50,246.67 434.10,248.33 433.50,250.00 C432.90,251.67 431.89,253.58 431.10,255.00 C430.31,256.42 429.24,257.57 428.76,258.50 C428.28,259.43 428.29,260.25 428.20,260.60 L428.20,260.60 C428.11,260.25 428.12,259.43 427.64,258.50 C427.16,257.57 426.09,256.42 425.30,255.00 C424.51,253.58 423.50,251.67 422.90,250.00 C422.30,248.33 421.90,246.67 421.70,245.00 C421.50,243.33 421.50,242.50 421.70,240.00 C421.90,237.50 422.38,233.33 422.90,230.00 C423.42,226.67 424.33,223.33 424.80,220.00 C425.27,216.67 425.37,213.33 425.70,210.00 C426.03,206.67 426.48,205.00 426.80,200.00 C427.12,195.00 427.42,186.03 427.64,180.00 C427.86,173.97 428.05,166.50 428.13,163.80 Z" fill="#18568f" stroke="#1e1e1e" stroke-width="0.5" stroke-linejoin="round"/>
<path d="M458.57,160.80 C458.64,164.00 458.79,173.47 458.99,180.00 C459.19,186.53 459.56,195.00 459.80,200.00 C460.04,205.00 460.20,206.67 460.40,210.00 C460.60,213.33 460.70,216.67 461.00,220.00 C461.30,223.33 461.67,226.67 462.20,230.00 C462.73,233.33 463.62,237.50 464.20,240.00 C464.78,242.50 465.27,243.33 465.70,245.00 C466.13,246.67 466.75,248.33 466.80,250.00 C466.85,251.67 466.68,253.67 466.00,255.00 C465.32,256.33 463.95,257.07 462.70,258.00 C461.45,258.93 459.20,260.17 458.50,260.60 L458.50,260.60 C457.80,260.17 455.55,258.93 454.30,258.00 C453.05,257.07 451.68,256.33 451.00,255.00 C450.32,253.67 450.15,251.67 450.20,250.00 C450.25,248.33 450.87,246.67 451.30,245.00 C451.73,243.33 452.22,242.50 452.80,240.00 C453.38,237.50 454.27,233.33 454.80,230.00 C455.33,226.67 455.70,223.33 456.00,220.00 C456.30,216.67 456.40,213.33 456.60,210.00 C456.80,206.67 456.96,205.00 457.20,200.00 C457.44,195.00 457.81,186.53 458.01,180.00 C458.21,173.47 458.36,164.00 458.43,160.80 Z" fill="#c8032a" stroke="#1e1e1e" stroke-width="0.5" stroke-linejoin="round"/>
<path d="M488.67,164.20 C488.80,166.83 489.02,174.03 489.44,180.00 C489.86,185.97 490.69,195.00 491.20,200.00 C491.71,205.00 492.10,206.67 492.50,210.00 C492.90,213.33 493.23,216.67 493.60,220.00 C493.97,223.33 494.52,226.67 494.70,230.00 C494.88,233.33 494.80,237.50 494.70,240.00 C494.60,242.50 494.45,243.33 494.10,245.00 C493.75,246.67 493.22,248.33 492.60,250.00 C491.98,251.67 491.03,253.90 490.40,255.00 C489.77,256.10 489.10,255.67 488.81,256.60 C488.52,257.53 488.66,259.93 488.64,260.60 L488.56,260.60 C488.54,259.93 488.68,257.53 488.39,256.60 C488.10,255.67 487.43,256.10 486.80,255.00 C486.17,253.90 485.22,251.67 484.60,250.00 C483.98,248.33 483.45,246.67 483.10,245.00 C482.75,243.33 482.60,242.50 482.50,240.00 C482.40,237.50 482.32,233.33 482.50,230.00 C482.68,226.67 483.23,223.33 483.60,220.00 C483.97,216.67 484.30,213.33 484.70,210.00 C485.10,206.67 485.49,205.00 486.00,200.00 C486.51,195.00 487.34,185.97 487.76,180.00 C488.18,174.03 488.40,166.83 488.53,164.20 Z" fill="#c8032a" stroke="#1e1e1e" stroke-width="0.5" stroke-linejoin="round"/>
<line x1="338.00" y1="278" x2="338.00" y2="280.6" stroke="#222" stroke-width="0.8"/>
<line x1="368.00" y1="278" x2="368.00" y2="280.6" stroke="#222" stroke-width="0.8"/>
<line x1="398.20" y1="278" x2="398.20" y2="280.6" stroke="#222" stroke-width="0.8"/>
<line x1="428.20" y1="278" x2="428.20" y2="280.6" stroke="#222" stroke-width="0.8"/>
<line x1="458.50" y1="278" x2="458.50" y2="280.6" stroke="#222" stroke-width="0.8"/>
<line x1="488.60" y1="278" x2="488.60" y2="280.6" stroke="#222" stroke-width="0.8"/>
<text x="338.00" y="289.80" font-size="6.40" text-anchor="middle" font-weight="normal" fill="#333" stroke="#333" stroke-width="0.15" >Hypoxia</text>
<text x="368.00" y="289.80" font-size="6.40" text-anchor="middle" font-weight="normal" fill="#333" stroke="#333" stroke-width="0.15" >Hypoxia</text>
<text x="398.20" y="289.80" font-size="6.40" text-anchor="middle" font-weight="normal" fill="#333" stroke="#333" stroke-width="0.15" >Normoxia</text>
<text x="428.20" y="289.80" font-size="6.40" text-anchor="middle" font-weight="normal" fill="#333" stroke="#333" stroke-width="0.15" >Hypoxia</text>
<text x="458.50" y="289.80" font-size="6.40" text-anchor="middle" font-weight="normal" fill="#333" stroke="#333" stroke-width="0.15" >Normoxia</text>
<text x="488.60" y="289.80" font-size="6.40" text-anchor="middle" font-weight="normal" fill="#333" stroke="#333" stroke-width="0.15" >Hypoxia</text>
<text x="351.30" y="301.50" font-size="9.00" text-anchor="middle" font-weight="normal" fill="#2a2a2a" stroke="#2a2a2a" stroke-width="0.40" textLength="13.6" lengthAdjust="spacingAndGlyphs">HbAA</text>
<text x="442.20" y="301.50" font-size="9.00" text-anchor="middle" font-weight="normal" fill="#2a2a2a" stroke="#2a2a2a" stroke-width="0.40" textLength="13.6" lengthAdjust="spacingAndGlyphs">HbSS</text>
<text x="319.40" y="312.30" font-size="6.30" text-anchor="middle" font-weight="normal" fill="#333" font-style="italic" stroke="#333" stroke-width="0.15" >Mean</text>
<text x="319.40" y="320.30" font-size="6.30" text-anchor="middle" font-weight="normal" fill="#333" font-style="italic" stroke="#333" stroke-width="0.15" >N</text>
<text x="338.00" y="312.30" font-size="6.30" text-anchor="middle" font-weight="normal" fill="#333" font-style="italic" stroke="#333" stroke-width="0.15" >0.06</text>
<text x="338.00" y="320.30" font-size="6.30" text-anchor="middle" font-weight="normal" fill="#333" font-style="italic" stroke="#333" stroke-width="0.15" >642</text>
<text x="368.00" y="312.30" font-size="6.30" text-anchor="middle" font-weight="normal" fill="#333" font-style="italic" stroke="#333" stroke-width="0.15" >0.07</text>
<text x="368.00" y="320.30" font-size="6.30" text-anchor="middle" font-weight="normal" fill="#333" font-style="italic" stroke="#333" stroke-width="0.15" >1610</text>
<text x="398.20" y="312.30" font-size="6.30" text-anchor="middle" font-weight="normal" fill="#333" font-style="italic" stroke="#333" stroke-width="0.15" >0.20</text>
<text x="398.20" y="320.30" font-size="6.30" text-anchor="middle" font-weight="normal" fill="#333" font-style="italic" stroke="#333" stroke-width="0.15" >2431</text>
<text x="428.20" y="312.30" font-size="6.30" text-anchor="middle" font-weight="normal" fill="#333" font-style="italic" stroke="#333" stroke-width="0.15" >0.28</text>
<text x="428.20" y="320.30" font-size="6.30" text-anchor="middle" font-weight="normal" fill="#333" font-style="italic" stroke="#333" stroke-width="0.15" >10467</text>
<text x="458.50" y="312.30" font-size="6.30" text-anchor="middle" font-weight="normal" fill="#333" font-style="italic" stroke="#333" stroke-width="0.15" >0.22</text>
<text x="458.50" y="320.30" font-size="6.30" text-anchor="middle" font-weight="normal" fill="#333" font-style="italic" stroke="#333" stroke-width="0.15" >100</text>
<text x="488.60" y="312.30" font-size="6.30" text-anchor="middle" font-weight="normal" fill="#333" font-style="italic" stroke="#333" stroke-width="0.15" >0.33</text>
<text x="488.60" y="320.30" font-size="6.30" text-anchor="middle" font-weight="normal" fill="#333" font-style="italic" stroke="#333" stroke-width="0.15" >12843</text>
<path d="M338.00,160.80 L338.00,160.80 L368.00,160.80 L368.00,160.80" fill="none" stroke="#2a2a2a" stroke-width="0.9"/>
<text x="352.80" y="158.30" font-size="6.00" text-anchor="middle" font-weight="normal" fill="#333" stroke="#333" stroke-width="0.15" >N.S.</text>
<path d="M428.20,144.20 L428.20,141.80 L488.60,141.80 L488.60,144.20" fill="none" stroke="#2a2a2a" stroke-width="0.9"/>
<text x="458.00" y="139.30" font-size="6.40" text-anchor="middle" font-weight="normal" fill="#333" stroke="#333" stroke-width="0.15" >P &lt; .001</text>
<path d="M398.20,153.00 L398.20,150.60 L428.20,150.60 L428.20,153.00" fill="none" stroke="#2a2a2a" stroke-width="0.9"/>
<text x="413.10" y="147.60" font-size="6.40" text-anchor="middle" font-weight="normal" fill="#333" stroke="#333" stroke-width="0.15" >P &lt; .001</text>
<path d="M458.50,153.00 L458.50,150.60 L488.60,150.60 L488.60,153.00" fill="none" stroke="#2a2a2a" stroke-width="0.9"/>
<text x="473.50" y="147.60" font-size="6.40" text-anchor="middle" font-weight="normal" fill="#333" stroke="#333" stroke-width="0.15" >P &lt; .001</text>
<path d="M398.20,160.80 L398.20,160.80 L458.50,160.80 L458.50,160.80" fill="none" stroke="#2a2a2a" stroke-width="0.9"/>
<text x="427.00" y="158.30" font-size="6.00" text-anchor="middle" font-weight="normal" fill="#333" stroke="#333" stroke-width="0.15" >N.S.</text>
</svg></body></html>
